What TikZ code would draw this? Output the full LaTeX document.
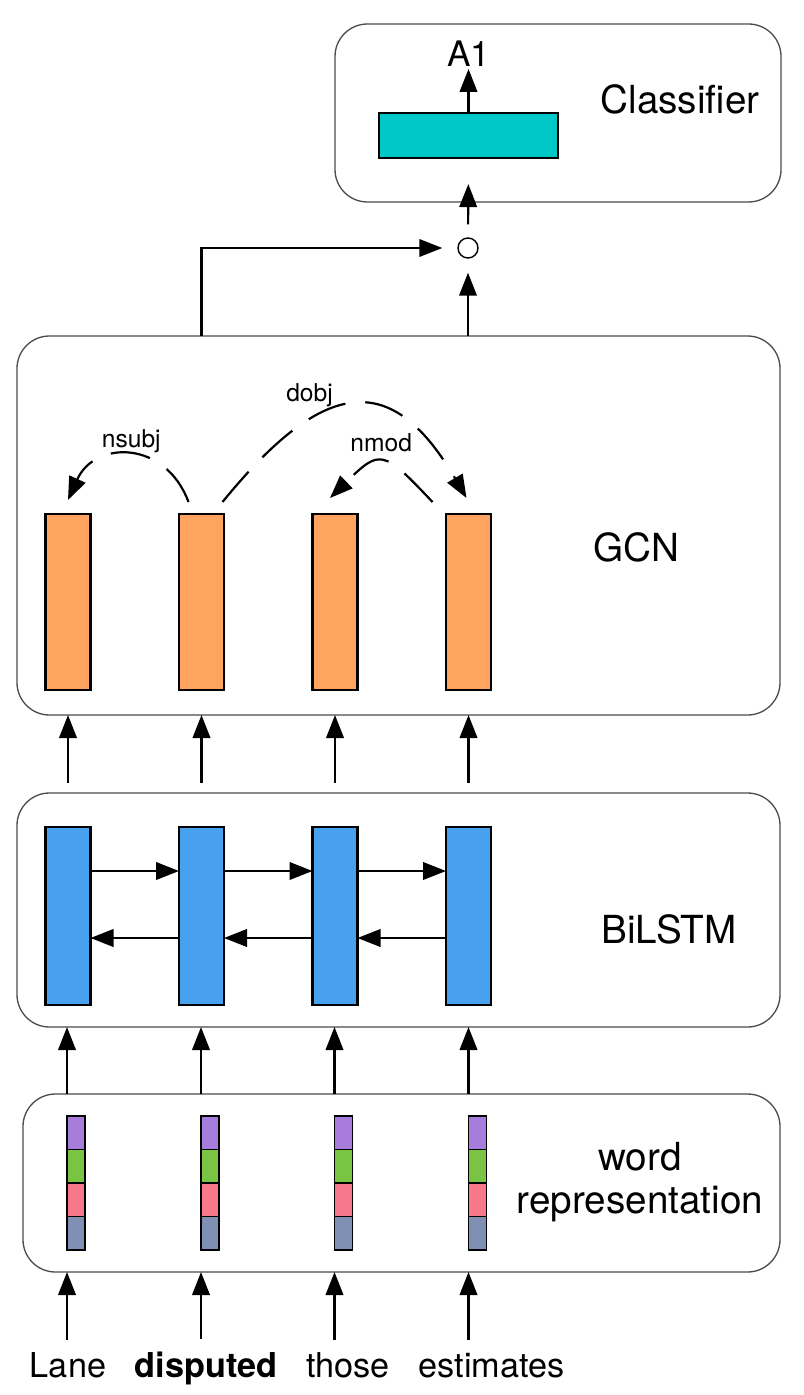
\documentclass[tikz,border=0pt]{standalone}
\usepackage{fontspec}
\setmainfont{TeX Gyre Heros}
\usepackage{xcolor}
\usetikzlibrary{positioning}
\usetikzlibrary{arrows.meta, calc}

\definecolor{tealc}{RGB}{0,200,200}
\definecolor{gcnc}{RGB}{255,164,94}
\definecolor{lstmc}{RGB}{71,161,239}
\definecolor{purc}{RGB}{168,124,219}
\definecolor{grnc}{RGB}{122,196,68}
\definecolor{pnkc}{RGB}{247,120,139}
\definecolor{slac}{RGB}{128,144,180}

\tikzset{
	layer/.style={draw=black!70, line width=0.75pt, rounded corners=6.5mm, inner sep=0, outer sep=0},
	bar/.style={draw, line width=1.2pt, minimum width=9mm, inner sep=0, outer sep=0},
	seg/.style={draw, line width=1.1pt, minimum width=3.6mm, minimum height=6.7mm, inner sep=0, outer sep=0},
	arr/.style={-{Triangle[length=4.6mm,width=3.5mm]}, line width=1.25pt},
	dep/.style={arr, dash pattern=on 8mm off 4mm},
	big/.style={font=\fontsize{22}{24.4}\selectfont},
	word/.style={font=\fontsize{19.5}{22}\selectfont, inner sep=0},
	lbl/.style={font=\fontsize{14}{16}\selectfont, inner sep=0},
}

\begin{document}
\begin{tikzpicture}[x=0.2mm, y=-0.2mm]
			\useasboundingbox (0,0) rectangle (803,1395);
			
			% layers
			\node[layer, minimum width=89.2mm, minimum height=35.6mm] (cbox) at (558,113) {};
			\node[layer, minimum width=152.6mm, minimum height=75.8mm] (gbox) at (398.5,525.5) {};
			\node[layer, minimum width=152.6mm, minimum height=46.8mm] (lbox) at (398.5,910) {};
			\node[layer, minimum width=151.4mm, minimum height=35.6mm] (wbox) at (401.5,1183) {};
			
			\node[big] (clab) at (680,99) {Classifier};
			\node[big] (glab) at (636,547) {GCN};
			\node[big] (llab) at (669,929) {BiLSTM};
			\node[big, align=center] (wlab) at (640,1182) {word\\representation};
			
			% classifier
			\node[draw, line width=1.2pt, fill=tealc, minimum width=35.8mm, minimum height=9mm, inner sep=0] (out) at (468.5,135.5) {};
			\node[font=\fontsize{20}{22}\selectfont, inner sep=0, above=9mm of out] (a1) {A1};
			\node[circle, draw, line width=0.8pt, minimum size=4mm, inner sep=0] (circ) at (468,248) {};
			
			% GCN
			\node[bar, fill=gcnc, minimum height=35.2mm] (g1) at (68,602) {};
			\node[bar, fill=gcnc, minimum height=35.2mm, right=17.7mm of g1] (g2) {};
			\node[bar, fill=gcnc, minimum height=35.2mm, right=17.7mm of g2] (g3) {};
			\node[bar, fill=gcnc, minimum height=35.2mm, right=17.7mm of g3] (g4) {};
			
			% BiLSTM
			\node[bar, fill=lstmc, minimum height=35.6mm] (l1) at (68,916) {};
			\node[bar, fill=lstmc, minimum height=35.6mm, right=17.7mm of l1] (l2) {};
			\node[bar, fill=lstmc, minimum height=35.6mm, right=17.7mm of l2] (l3) {};
			\node[bar, fill=lstmc, minimum height=35.6mm, right=17.7mm of l3] (l4) {};
			
			% word vectors
			\node[seg, fill=purc, anchor=north west] (v1a) at (67,1116) {};
			\node[seg, fill=grnc, below=0mm of v1a] (v1b) {};
			\node[seg, fill=pnkc, below=0mm of v1b] (v1c) {};
			\node[seg, fill=slac, below=0mm of v1c] (v1d) {};
			\node[seg, fill=purc, anchor=north west] (v2a) at (201,1116) {};
			\node[seg, fill=grnc, below=0mm of v2a] (v2b) {};
			\node[seg, fill=pnkc, below=0mm of v2b] (v2c) {};
			\node[seg, fill=slac, below=0mm of v2c] (v2d) {};
			\node[seg, fill=purc, anchor=north west] (v3a) at (334.5,1116) {};
			\node[seg, fill=grnc, below=0mm of v3a] (v3b) {};
			\node[seg, fill=pnkc, below=0mm of v3b] (v3c) {};
			\node[seg, fill=slac, below=0mm of v3c] (v3d) {};
			\node[seg, fill=purc, anchor=north west] (v4a) at (468.5,1116) {};
			\node[seg, fill=grnc, below=0mm of v4a] (v4b) {};
			\node[seg, fill=pnkc, below=0mm of v4b] (v4c) {};
			\node[seg, fill=slac, below=0mm of v4c] (v4d) {};
			
			% words
			\node[word, anchor=base] (w1) at (68,1377) {Lane};
			\node[word, base right=5.6mm of w1] (w2) {\textbf{disputed}};
			\node[word, base right=5.6mm of w2] (w3) {those};
			\node[word, base right=5.6mm of w3] (w4) {estimates};
			
			\draw[arr, shorten <=2.4mm] (v1a.west |- w1.north) -- (v1a.west |- wbox.south);
			\draw[arr, shorten <=2.4mm] (v2a.west |- w2.north) -- (v2a.west |- wbox.south);
			\draw[arr, shorten <=2.4mm] (v3a.west |- w3.north) -- (v3a.west |- wbox.south);
			\draw[arr, shorten <=2.4mm] (v4a.west |- w4.north) -- (v4a.west |- wbox.south);
			
			\draw[arr] (v1a.west |- wbox.north) -- (v1a.west |- lbox.south);
			\draw[arr] (v2a.west |- wbox.north) -- (v2a.west |- lbox.south);
			\draw[arr] (v3a.west |- wbox.north) -- (v3a.west |- lbox.south);
			\draw[arr] (v4a.west |- wbox.north) -- (v4a.west |- lbox.south);
			
			\draw[arr] ([yshift=9mm]l1.east) -- ([yshift=9mm]l2.west);
			\draw[arr] ([yshift=9mm]l2.east) -- ([yshift=9mm]l3.west);
			\draw[arr] ([yshift=9mm]l3.east) -- ([yshift=9mm]l4.west);
			\draw[arr] ([yshift=-4.4mm]l2.west) -- ([yshift=-4.4mm]l1.east);
			\draw[arr] ([yshift=-4.4mm]l3.west) -- ([yshift=-4.4mm]l2.east);
			\draw[arr] ([yshift=-4.4mm]l4.west) -- ([yshift=-4.4mm]l3.east);
			
			\draw[arr, shorten <=2mm] (l1 |- lbox.north) -- (l1 |- gbox.south);
			\draw[arr, shorten <=2mm] (l2 |- lbox.north) -- (l2 |- gbox.south);
			\draw[arr, shorten <=2mm] (l3 |- lbox.north) -- (l3 |- gbox.south);
			\draw[arr, shorten <=2mm] (l4 |- lbox.north) -- (l4 |- gbox.south);
			
			% dependency arcs
			\draw[dep] ($(g2.north)+(-13,-12)$) .. controls +(-23,-62) and +(27,-60) .. ($(g1.north)+(0,-14)$) node[lbl, midway, xshift=0.3mm, yshift=2.8mm] {nsubj};
			\draw[dep] ($(g2.north)+(21,-12)$) .. controls +(105,-129) and +(-73,-125) .. ($(g4.north)+(-2,-16)$) node[lbl, midway, xshift=-9.4mm, yshift=2mm] {dobj};
			\draw[dep] ($(g4.north)+(-36,-12)$) .. controls +(-50,-53) and +(50,-49) .. ($(g3.north)+(-5,-16)$) node[lbl, midway, yshift=3.8mm] {nmod};
			
			% to classifier
			\draw[arr, shorten >=2.8mm] (circ |- gbox.north) -- (circ.south);
			\draw[arr, shorten >=3mm] (g2 |- gbox.north) |- (circ.west);
			\draw[arr, shorten <=2.6mm, shorten >=5mm] (circ.north) -- (out.south);
			\draw[arr, shorten >=0.4mm] (out.north) -- (a1.south);
			
		\end{tikzpicture}
\end{document}
